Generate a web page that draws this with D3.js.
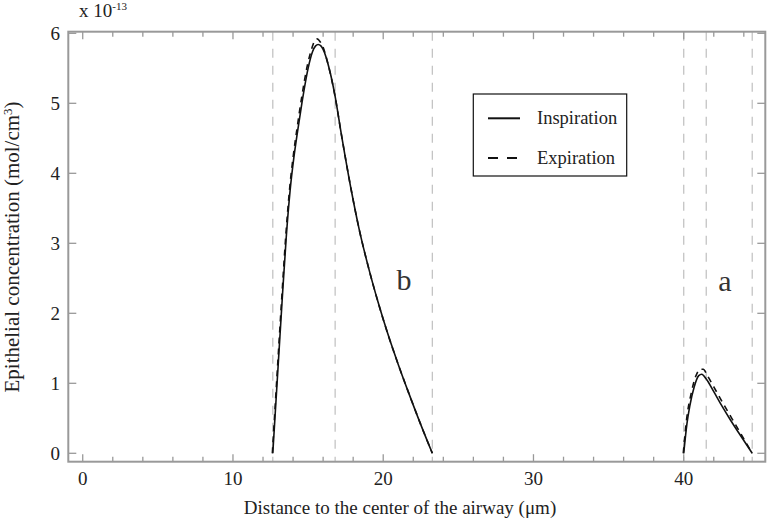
<!DOCTYPE html>
<html><head><meta charset="utf-8">
<script src="https://cdn.jsdelivr.net/npm/d3@7"></script>
<style>body{margin:0;background:#fff}svg{display:block}text{font-family:"Liberation Serif","Times New Roman",serif}</style>
</head><body><svg id="c" width="768" height="523"></svg>
<script>
const xTicks=[0,10,20,30,40];
const yTicks=[0,1,2,3,4,5,6];
const dividers=[12.65,16.8,23.27,40.0,41.5,44.56];
const inspB=[[12.65,0],[13.0,1.23],[13.3,2.28],[13.55,3.1],[13.8,3.75],[14.05,4.22],[14.3,4.6],[14.6,5.02],[15.0,5.5],[15.3,5.74],[15.5,5.82],[15.67,5.84],[15.85,5.82],[16.0,5.77],[16.4,5.5],[16.78,5.12],[17.22,4.55],[17.89,3.74],[18.4,3.2],[19.0,2.67],[19.67,2.15],[20.3,1.71],[21.0,1.27],[21.7,0.86],[22.5,0.41],[23.27,0]];
const expB=[[12.62,0],[12.97,1.25],[13.27,2.3],[13.52,3.12],[13.77,3.78],[14.02,4.26],[14.27,4.65],[14.57,5.08],[14.97,5.56],[15.27,5.8],[15.45,5.9],[15.6,5.92],[15.8,5.88],[16.0,5.8],[16.35,5.54],[16.76,5.14],[17.22,4.55],[17.89,3.74],[18.4,3.2],[19.0,2.67],[19.67,2.15],[20.3,1.71],[21.0,1.27],[21.7,0.86],[22.5,0.41],[23.27,0]];
const inspA=[[40.0,0],[40.22,0.43],[40.4,0.67],[40.7,0.95],[41.0,1.11],[41.2,1.13],[41.5,1.06],[42.0,0.88],[42.56,0.67],[43.1,0.48],[43.67,0.29],[44.56,0]];
const expA=[[39.97,0],[40.2,0.5],[40.5,0.86],[40.8,1.1],[41.1,1.2],[41.3,1.2],[41.6,1.1],[42.0,0.95],[42.6,0.72],[43.2,0.5],[43.8,0.28],[44.56,0]];
const legendLabels=["Inspiration","Expiration"];

const svg=d3.select("#c");
const L=68.3,R=765.3,T=31.7,B=461.7;
const x=d3.scaleLinear().domain([-0.96,45.43]).range([L,R]);
const y=d3.scaleLinear().domain([-0.12,6.023]).range([B,T]);
const axisCol="#999";

svg.append("g").selectAll("line").data(dividers).join("line")
 .attr("x1",d=>x(d)).attr("x2",d=>x(d)).attr("y1",T).attr("y2",B)
 .attr("stroke","#c4c4c4").attr("stroke-width",1.3).attr("stroke-dasharray","9,8");

const xMinor=d3.range(0,46,2);
const tk=svg.append("g").attr("stroke",axisCol).attr("stroke-width",1.3);
xMinor.forEach(v=>{
  const len=(v%10===0)?7.5:5;
  tk.append("line").attr("x1",x(v)).attr("x2",x(v)).attr("y1",B).attr("y2",B-len);
  tk.append("line").attr("x1",x(v)).attr("x2",x(v)).attr("y1",T).attr("y2",T+len);
});
yTicks.forEach(v=>{
  tk.append("line").attr("x1",L).attr("x2",L+8).attr("y1",y(v)).attr("y2",y(v));
  tk.append("line").attr("x1",R).attr("x2",R-8).attr("y1",y(v)).attr("y2",y(v));
});
svg.append("rect").attr("x",L).attr("y",T).attr("width",R-L).attr("height",B-T)
 .attr("fill","none").attr("stroke",axisCol).attr("stroke-width",2);

svg.append("g").selectAll("text").data(xTicks).join("text")
 .attr("x",d=>x(d)).attr("y",485).attr("text-anchor","middle")
 .attr("font-size",19).attr("fill","#222").text(d=>d);
svg.append("g").selectAll("text").data(yTicks).join("text")
 .attr("x",60).attr("y",d=>y(d)).attr("dy","0.34em").attr("text-anchor","end")
 .attr("font-size",19).attr("fill","#222").text(d=>d);

const line=d3.line().x(d=>x(d[0])).y(d=>y(d[1])).curve(d3.curveMonotoneX);
[[expB,"6,5"],[expA,"6,5"],[inspB,null],[inspA,null]].forEach(([d,dash])=>{
  const p=svg.append("path").attr("d",line(d)).attr("fill","none")
   .attr("stroke","#111").attr("stroke-width",1.6);
  if(dash) p.attr("stroke-dasharray",dash);
});

svg.append("text").attr("x",404).attr("y",290).attr("text-anchor","middle").attr("font-size",30).attr("fill","#333").text("b");
svg.append("text").attr("x",725).attr("y",291).attr("text-anchor","middle").attr("font-size",30).attr("fill","#333").text("a");

svg.append("rect").attr("x",473.3).attr("y",94).attr("width",153.4).attr("height",82)
 .attr("fill","#fff").attr("stroke","#111").attr("stroke-width",1.2);
const ly=[118.3,158];
legendLabels.forEach((t,i)=>{
  const l=svg.append("line").attr("x1",488).attr("x2",520).attr("y1",ly[i]).attr("y2",ly[i])
   .attr("stroke","#111").attr("stroke-width",2);
  if(i===1) l.attr("stroke-dasharray","10,9");
  svg.append("text").attr("x",537).attr("y",ly[i]).attr("dy","0.32em").attr("font-size",18.5).attr("fill","#222").text(t);
});

svg.append("text").attr("x",400).attr("y",514).attr("text-anchor","middle").attr("font-size",19).attr("fill","#222")
 .text("Distance to the center of the airway (\u03bcm)");
const yl=svg.append("text").attr("transform","translate(19,247) rotate(-90)").attr("text-anchor","middle")
 .attr("font-size",21).attr("fill","#222");
yl.append("tspan").text("Epithelial concentration (mol/cm");
yl.append("tspan").attr("dy",-7).attr("font-size",13).text("3");
yl.append("tspan").attr("dy",7).text(")");
const ex=svg.append("text").attr("x",79).attr("y",17).attr("font-size",19).attr("fill","#222");
ex.append("tspan").text("x 10");
ex.append("tspan").attr("dy",-7).attr("font-size",11).text("-13");
</script></body></html>
